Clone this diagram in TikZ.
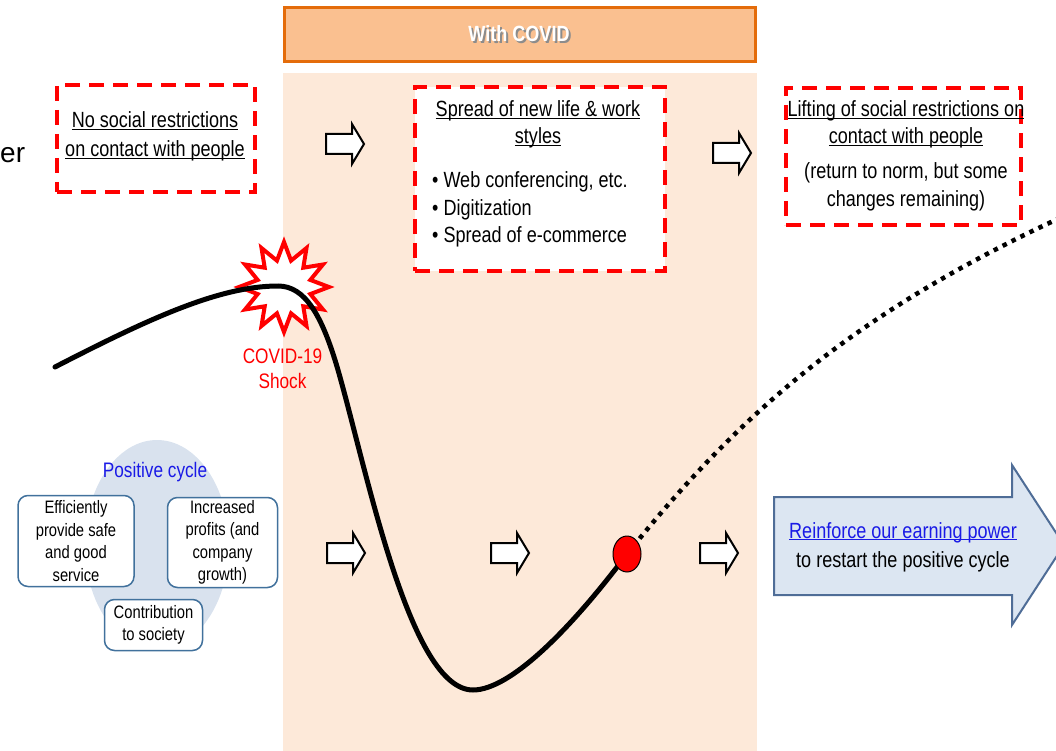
\documentclass[tikz,border=0pt]{standalone}
\usepackage{fontspec}
\setmainfont{Liberation Sans}[FakeStretch=0.82]
\newfontfamily\widefont{Liberation Sans}
\usetikzlibrary{shapes.geometric}

\definecolor{covidbg}{HTML}{FDE9D9}
\definecolor{covidhead}{HTML}{FAC090}
\definecolor{covidedge}{HTML}{E46C0A}
\definecolor{cyclebg}{HTML}{D9E2EE}
\definecolor{boxedge}{HTML}{41719C}
\definecolor{arrowfill}{HTML}{DCE6F2}
\definecolor{arrowedge}{HTML}{4F6D97}
\definecolor{linkblue}{HTML}{1A1AE6}

\newcommand{\ulin}[1]{\underline{\smash{#1}}}

\tikzset{
  txt/.style={font=\fontsize{22}{28}\selectfont, inner sep=0pt, anchor=base},
  redbox/.style={draw=red, line width=4pt, dash pattern=on 15pt off 9pt, fill=white, inner sep=0pt},
  cyclebox/.style={draw=boxedge, line width=1.5pt, rounded corners=10pt, fill=white, align=center,
    font=\fontsize{18}{22.5}\selectfont, inner sep=0pt},
  whitearrow/.pic={\draw[line width=2pt, fill=white, line join=miter]
    (-19,-10) -- (7,-10) -- (7,-20) -- (19,0) -- (7,20) -- (7,10) -- (-19,10) -- cycle;},
}

\begin{document}
\begin{tikzpicture}[x=1pt,y=-1pt]
\clip (0,0) rectangle (1056,751);
% Drawing the covid band
\fill[covidbg] (283,73) rectangle (757,751);
\node[draw=covidedge, line width=3pt, fill=covidhead, minimum width=471pt, minimum height=54pt, inner sep=0pt] (head) at (520,34.5) {};
\node[txt, font=\fontsize{22}{28}\selectfont\bfseries, text=black!45] (headshade) at (521,43.5) {With COVID};
\node[txt, font=\fontsize{22}{28}\selectfont\bfseries, text=white] (headtext) at (519,42) {With COVID};
% Cut off word at the left edge
\node[inner sep=0pt, anchor=base west, font=\widefont\fontsize{28}{34}\selectfont] (cutword) at (0,163) {er};
% Drawing the three stages
\node[redbox, minimum width=198pt, minimum height=107pt] (before) at (156,138.5) {};
\node[txt] (before1) at (155,128) {\ulin{No social restrictions}};
\node[txt] (before2) at (155,157) {\ulin{on contact with people}};
\node[redbox, minimum width=250pt, minimum height=184pt] (during) at (540,179) {};
\node[txt] (during1) at (538,117) {\ulin{Spread of new life \& work}};
\node[txt] (during2) at (538,144) {\ulin{styles}};
\node[txt, anchor=base west] (during3) at (432,188) {\textbullet\ Web conferencing, etc.};
\node[txt, anchor=base west] (during4) at (432,216) {\textbullet\ Digitization};
\node[txt, anchor=base west] (during5) at (432,243) {\textbullet\ Spread of e-commerce};
\node[redbox, minimum width=235pt, minimum height=137pt] (after) at (903.5,156.5) {};
\node[txt] (after1) at (906,117) {\ulin{Lifting of social restrictions on}};
\node[txt] (after2) at (906,144) {\ulin{contact with people}};
\node[txt] (after3) at (906,179) {(return to norm, but some};
\node[txt] (after4) at (906,207) {changes remaining)};
% Drawing the positive cycle
\fill[cyclebg] (157,545) ellipse [x radius=72, y radius=105];
\node[txt, font=\fontsize{21}{26}\selectfont, text=linkblue] (cycle) at (155,477) {Positive cycle};
\node[cyclebox, minimum width=116pt, minimum height=91pt] (effic) at (76,541) {Efficiently\\provide safe\\and good\\service};
\node[cyclebox, minimum width=110pt, minimum height=90pt] (profit) at (222.5,542.5) {Increased\\profits (and\\company\\growth)};
\node[cyclebox, minimum width=98pt, minimum height=51pt] (contrib) at (153.5,625) {Contribution\\to society};
% Drawing the big arrow
\draw[fill=arrowfill, draw=arrowedge, line width=2pt, line join=miter]
  (774,497) -- (1012,497) -- (1012,465) -- (1064,545) -- (1012,625) -- (1012,595) -- (774,595) -- cycle;
\node[txt, text=linkblue] (power1) at (903,538) {\ulin{Reinforce our earning power}};
\node[txt] (power2) at (903,567) {to restart the positive cycle};
% Drawing the shock
\node[star, star points=12, star point ratio=1.65, minimum size=90pt, draw=red, fill=white, line width=4pt, inner sep=0pt] (shock) at (284,287) {};
\node[txt, font=\fontsize{21}{26}\selectfont, text=red] (shock1) at (282.5,363) {COVID-19};
\node[txt, font=\fontsize{21}{26}\selectfont, text=red] (shock2) at (282.5,388) {Shock};
% Drawing the curve
\node[ellipse, minimum width=28pt, minimum height=36pt, inner sep=0pt] (now) at (627,554) {};
\coordinate (start) at (55,367);
\coordinate (peak) at (278,286);
\coordinate (fall) at (338,370);
\coordinate (bottom) at (473,690);
\coordinate (recover) at (1062,217);
\draw[line width=5pt, line cap=round]
  (start) .. controls (150,318) and (220,286) .. (peak)
  .. controls (305,286) and (322,315) .. (fall)
  .. controls (368,475) and (410,690) .. (bottom)
  .. controls (510,690) and (570,630) .. (now.center);
\draw[line width=4.5pt, dash pattern=on 4.5pt off 5.5pt]
  (now.center) .. controls (737,417) and (850,315) .. (recover);
\node[ellipse, draw=black, fill=red, line width=1pt, minimum width=28pt, minimum height=36pt, inner sep=0pt] (nowdot) at (now) {};
% Drawing the small arrows
\pic at (345,144) {whitearrow};
\pic at (732,153) {whitearrow};
\pic at (346,553) {whitearrow};
\pic at (510,553) {whitearrow};
\pic at (719,553) {whitearrow};
\end{tikzpicture}
\end{document}
